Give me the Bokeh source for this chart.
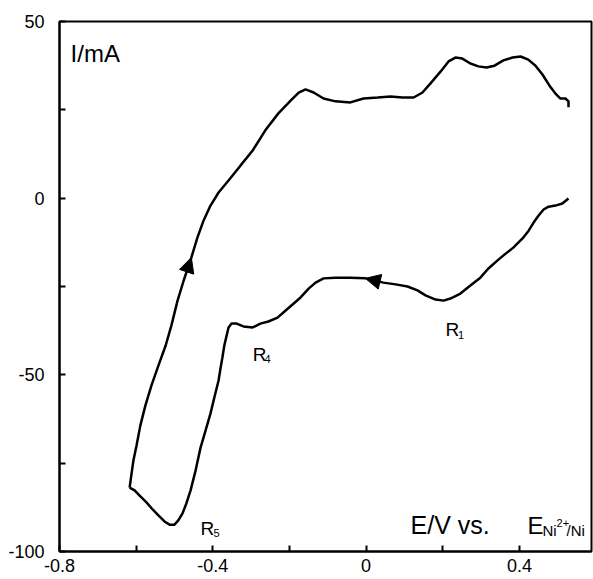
from bokeh.plotting import figure
from bokeh.models import Range1d, FixedTicker, Label, Arrow, NormalHead
from bokeh.embed import file_html
from bokeh.resources import INLINE

# ---- data ----
# cathodic sweep (right -> left)
E_cath = [0.528, 0.512, 0.494, 0.476, 0.463, 0.450, 0.437, 0.424, 0.408, 0.384,
          0.364, 0.343, 0.319, 0.298, 0.272, 0.246, 0.220, 0.202, 0.181, 0.155,
          0.134, 0.108, 0.077, 0.045, -0.002, -0.041, -0.080, -0.111, -0.132, -0.150,
          -0.171, -0.192, -0.210, -0.231, -0.255, -0.276, -0.296, -0.320, -0.338, -0.351,
          -0.359, -0.364, -0.370, -0.375, -0.380, -0.385, -0.396, -0.406, -0.419, -0.432,
          -0.445, -0.458, -0.469, -0.479, -0.490, -0.500, -0.513, -0.526, -0.542, -0.557,
          -0.573, -0.589, -0.604, -0.617]
I_cath = [-0.1, -1.5, -2.1, -2.4, -3.2, -4.9, -6.9, -9.2, -11.4, -14.0,
          -15.7, -17.6, -19.9, -22.5, -24.7, -27.0, -28.4, -29.0, -28.7, -27.5,
          -26.1, -25.0, -24.4, -23.9, -22.7, -22.5, -22.5, -22.7, -23.9, -25.6,
          -28.1, -30.1, -31.8, -33.8, -34.9, -35.5, -36.6, -36.3, -35.5, -35.5,
          -36.6, -38.9, -41.7, -45.1, -48.2, -51.6, -56.4, -60.9, -65.8, -70.6,
          -77.1, -82.7, -86.4, -89.2, -91.2, -92.4, -92.4, -91.5, -89.8, -88.1,
          -86.1, -84.4, -82.7, -81.9]
# anodic sweep (left -> right)
E_anod = [-0.617, -0.612, -0.607, -0.599, -0.589, -0.576, -0.560, -0.542, -0.523, -0.508,
          -0.492, -0.476, -0.456, -0.440, -0.424, -0.406, -0.385, -0.359, -0.328, -0.296,
          -0.263, -0.229, -0.197, -0.176, -0.158, -0.137, -0.111, -0.080, -0.041, -0.007,
          0.030, 0.064, 0.095, 0.124, 0.147, 0.168, 0.194, 0.215, 0.233, 0.251,
          0.272, 0.293, 0.314, 0.335, 0.358, 0.382, 0.403, 0.423, 0.442, 0.460,
          0.478, 0.494, 0.507, 0.520, 0.528, 0.528]
I_anod = [-81.9, -77.9, -74.2, -70.0, -64.3, -58.7, -53.0, -47.4, -41.7, -36.0,
          -29.0, -23.3, -16.8, -11.1, -6.3, -2.1, 1.6, 5.0, 9.2, 13.5,
          19.2, 24.0, 27.6, 29.9, 30.8, 29.9, 28.2, 27.4, 27.1, 28.2,
          28.5, 28.8, 28.5, 28.5, 29.9, 32.5, 35.8, 38.7, 39.8, 39.5,
          38.1, 37.3, 37.0, 37.5, 39.0, 39.8, 40.1, 39.2, 37.5, 35.0,
          31.9, 29.6, 28.2, 28.2, 27.4, 25.7]

ARROW_CATH_IDX = 24   # arrow head at this point of the cathodic sweep
ARROW_ANOD_IDX = 12   # arrow head at this point of the anodic sweep

x_ticks = [-0.8, -0.4, 0, 0.4]
x_tick_labels = ["-0.8", "-0.4", "0", "0.4"]
x_minor = [-0.6, -0.2, 0.2]
y_ticks = [-100, -50, 0, 50]
y_tick_labels = ["-100", "-50", "0", "50"]
y_minor = [-75, -25, 25]

FONT = "Liberation Sans"

p = figure(width=593, height=579, x_range=Range1d(-0.8, 0.588), y_range=Range1d(-100, 50),
           output_backend="svg", toolbar_location=None,
           min_border_left=59, min_border_right=2, min_border_top=21, min_border_bottom=28)
p.xgrid.visible = False
p.ygrid.visible = False
p.outline_line_color = "black"
p.outline_line_width = 2
p.background_fill_color = "white"
p.border_fill_color = "white"

p.xaxis.ticker = FixedTicker(ticks=x_ticks, minor_ticks=x_minor)
p.yaxis.ticker = FixedTicker(ticks=y_ticks, minor_ticks=y_minor)
p.xaxis.major_label_overrides = {t: l for t, l in zip(x_ticks, x_tick_labels)}
p.yaxis.major_label_overrides = {t: l for t, l in zip(y_ticks, y_tick_labels)}
for ax in (p.xaxis, p.yaxis):
    ax.axis_line_width = 2
    ax.axis_line_color = "black"
    ax.major_tick_in = 6
    ax.major_tick_out = 0
    ax.minor_tick_in = 6
    ax.minor_tick_out = 0
    ax.major_tick_line_width = 2
    ax.minor_tick_line_width = 2
    ax.major_tick_line_color = "black"
    ax.minor_tick_line_color = "black"
    ax.major_label_text_font = FONT
    ax.major_label_text_font_size = "18px"
    ax.major_label_text_color = "black"
p.xaxis.major_label_standoff = 7
p.yaxis.major_label_standoff = 15

p.line(E_cath, I_cath, line_color="black", line_width=2.5)
p.line(E_anod, I_anod, line_color="black", line_width=2.5)

for E, I, k in ((E_cath, I_cath, ARROW_CATH_IDX), (E_anod, I_anod, ARROW_ANOD_IDX)):
    p.add_layout(Arrow(end=NormalHead(size=15, fill_color="black", line_color="black"),
                       x_start=E[k - 1], y_start=I[k - 1], x_end=E[k], y_end=I[k],
                       line_alpha=0))

def lab(x, y, t, size):
    p.add_layout(Label(x=x, y=y, text=t, text_font=FONT, text_font_size=size,
                       text_color="black", text_baseline="alphabetic", text_align="left"))

lab(-0.771, 40.9, "I/mA", "24px")
lab(0.207, -37.2, "R", "19px")
lab(0.240, -38.6, "1", "11px")
lab(-0.296, -44.2, "R", "19px")
lab(-0.265, -45.6, "4", "11px")
lab(-0.432, -93.5, "R", "19px")
lab(-0.398, -94.9, "5", "11px")
lab(0.116, -92.6, "E/V vs.", "25px")
lab(0.421, -92.6, "E", "24px")
lab(0.460, -94.1, "Ni", "15px")
lab(0.497, -91.8, "2+", "11px")
lab(0.523, -94.1, "/Ni", "15px")

open("out.html", "w").write(file_html(p, INLINE))
